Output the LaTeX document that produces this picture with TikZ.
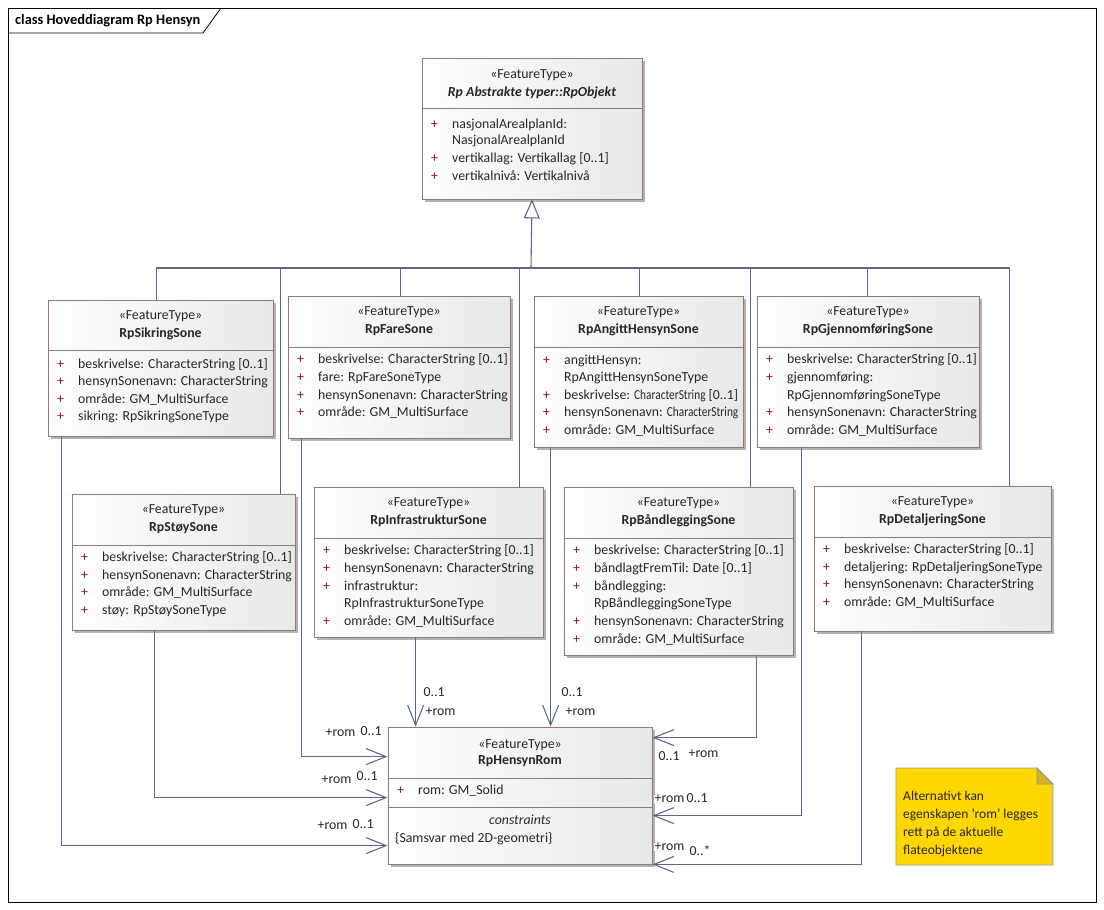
\documentclass[tikz,border=0pt]{standalone}
\usepackage{fontspec}
\usepackage{graphicx}
\setmainfont{Carlito}
\usetikzlibrary{arrows.meta,fit,shadows}
\definecolor{conncol}{RGB}{92,104,136}
\definecolor{bordcol}{RGB}{150,118,118}
\definecolor{pluscol}{RGB}{128,16,64}
\definecolor{notecol}{RGB}{255,215,0}
\definecolor{foldcol}{RGB}{214,178,20}
\definecolor{notebord}{RGB}{140,150,170}
\newcommand\fsz{\fontsize{13.8}{16}\selectfont}
\newcommand\narrowCS{\scalebox{0.82}[1]{CharacterString}}
\tikzset{
  cls/.style={draw=bordcol, line width=0.8pt, left color=white, right color=black!9, inner sep=0pt,
    drop shadow={shadow xshift=3pt, shadow yshift=-3pt, fill=black!30, opacity=1}},
  sepline/.style={draw=bordcol, line width=0.8pt},
  txt/.style={font=\fsz, inner sep=0pt, text=black!85, yshift=-1.5pt},
  attr/.style={txt, anchor=mid west},
  plusmark/.style={txt, anchor=mid west, text=pluscol},
  stereo/.style={txt, anchor=mid},
  cname/.style={txt, anchor=mid, font=\fsz\bfseries},
  conn/.style={draw=conncol, line width=1.1pt},
  assoc/.style={conn, -{Straight Barb[length=20pt,width=16pt]}},
  gen/.style={conn, -{Triangle[open,length=19pt,width=16pt]}},
  role/.style={txt, anchor=mid west, fill=white, inner sep=0.5pt},
}
% #1 name prefix, #2 box left x, #3 y, #4 text
\newcommand\pattr[4]{%
  \node[plusmark] (#1p) at (#2+9,#3) {+};
  \node[attr] (#1) at (#2+30,#3) {#4};}
\newcommand\cattr[4]{%
  \node[attr] (#1) at (#2+30,#3) {#4};}
\begin{document}
\begin{tikzpicture}[x=1pt,y=-1pt]
\useasboundingbox (0,0) rectangle (1104,910);
% frame
\draw[line width=0.8pt] (8,8) rectangle (1096,902);
\draw[line width=0.8pt] (8,33) -- (203,33) -- (221,8);
\node[anchor=mid west, inner sep=0pt, yshift=-2pt, font=\fontsize{14.4}{16}\selectfont\bfseries] (title) at (15,20) {class Hoveddiagram Rp Hensyn};

% ---------- RpObjekt
\node[cls, fit={(422,58) (642,199)}] (obj) {};
\draw[sepline] (obj.west |- 0,108) -- (obj.east |- 0,108);
\node[stereo] (objS) at (532,75) {«FeatureType»};
\node[cname, font=\fsz\bfseries\itshape] (objN) at (532,93) {Rp Abstrakte typer::RpObjekt};
\pattr{objA1}{422}{125}{nasjonalArealplanId:}
\cattr{objA1b}{422}{141}{NasjonalArealplanId}
\pattr{objA2}{422}{159}{vertikallag: Vertikallag [0..1]}
\pattr{objA3}{422}{177}{vertikalnivå: Vertikalnivå}

% ---------- RpSikringSone
\node[cls, fit={(48,300) (273,436)}] (sik) {};
\draw[sepline] (sik.west |- 0,350) -- (sik.east |- 0,350);
\node[stereo] (sikS) at (160.5,316) {«FeatureType»};
\node[cname] (sikN) at (160.5,334) {RpSikringSone};
\pattr{sikA1}{48}{365}{beskrivelse: CharacterString [0..1]}
\pattr{sikA2}{48}{382}{hensynSonenavn: CharacterString}
\pattr{sikA3}{48}{400}{område: GM\_MultiSurface}
\pattr{sikA4}{48}{417}{sikring: RpSikringSoneType}

% ---------- RpFareSone
\node[cls, fit={(288,296) (510,438)}] (fare) {};
\draw[sepline] (fare.west |- 0,347) -- (fare.east |- 0,347);
\node[stereo] (fareS) at (399,312) {«FeatureType»};
\node[cname] (fareN) at (399,330) {RpFareSone};
\pattr{fareA1}{288}{360}{beskrivelse: CharacterString [0..1]}
\pattr{fareA2}{288}{378}{fare: RpFareSoneType}
\pattr{fareA3}{288}{396}{hensynSonenavn: CharacterString}
\pattr{fareA4}{288}{413}{område: GM\_MultiSurface}

% ---------- RpAngittHensynSone
\node[cls, fit={(534,296) (743,447)}] (ang) {};
\draw[sepline] (ang.west |- 0,347) -- (ang.east |- 0,347);
\node[stereo] (angS) at (638.5,312) {«FeatureType»};
\node[cname] (angN) at (638.5,330) {RpAngittHensynSone};
\pattr{angA1}{534}{361}{angittHensyn:}
\cattr{angA1b}{534}{378}{RpAngittHensynSoneType}
\pattr{angA2}{534}{396}{beskrivelse: \narrowCS{} [0..1]}
\pattr{angA3}{534}{413}{hensynSonenavn: \narrowCS}
\pattr{angA4}{534}{431}{område: GM\_MultiSurface}

% ---------- RpGjennomføringSone
\node[cls, fit={(757,296) (979,447)}] (gjen) {};
\draw[sepline] (gjen.west |- 0,347) -- (gjen.east |- 0,347);
\node[stereo] (gjenS) at (868,312) {«FeatureType»};
\node[cname] (gjenN) at (868,330) {RpGjennomføringSone};
\pattr{gjenA1}{757}{360}{beskrivelse: CharacterString [0..1]}
\pattr{gjenA2}{757}{378}{gjennomføring:}
\cattr{gjenA2b}{757}{396}{RpGjennomføringSoneType}
\pattr{gjenA3}{757}{413}{hensynSonenavn: CharacterString}
\pattr{gjenA4}{757}{431}{område: GM\_MultiSurface}

% ---------- RpStøySone
\node[cls, fit={(72,494) (295,630)}] (stoy) {};
\draw[sepline] (stoy.west |- 0,545) -- (stoy.east |- 0,545);
\node[stereo] (stoyS) at (183.5,510) {«FeatureType»};
\node[cname] (stoyN) at (183.5,528) {RpStøySone};
\pattr{stoyA1}{72}{558}{beskrivelse: CharacterString [0..1]}
\pattr{stoyA2}{72}{576}{hensynSonenavn: CharacterString}
\pattr{stoyA3}{72}{593}{område: GM\_MultiSurface}
\pattr{stoyA4}{72}{611}{støy: RpStøySoneType}

% ---------- RpInfrastrukturSone
\node[cls, fit={(314,487) (543,637)}] (infra) {};
\draw[sepline] (infra.west |- 0,538) -- (infra.east |- 0,538);
\node[stereo] (infraS) at (428.5,503) {«FeatureType»};
\node[cname] (infraN) at (428.5,521) {RpInfrastrukturSone};
\pattr{infraA1}{314}{551}{beskrivelse: CharacterString [0..1]}
\pattr{infraA2}{314}{569}{hensynSonenavn: CharacterString}
\pattr{infraA3}{314}{587}{infrastruktur:}
\cattr{infraA3b}{314}{604}{RpInfrastrukturSoneType}
\pattr{infraA4}{314}{622}{område: GM\_MultiSurface}

% ---------- RpBåndleggingSone
\node[cls, fit={(564,487) (793,655)}] (band) {};
\draw[sepline] (band.west |- 0,538) -- (band.east |- 0,538);
\node[stereo] (bandS) at (678.5,503) {«FeatureType»};
\node[cname] (bandN) at (678.5,521) {RpBåndleggingSone};
\pattr{bandA1}{564}{551}{beskrivelse: CharacterString [0..1]}
\pattr{bandA2}{564}{569}{båndlagtFremTil: Date [0..1]}
\pattr{bandA3}{564}{587}{båndlegging:}
\cattr{bandA3b}{564}{604}{RpBåndleggingSoneType}
\pattr{bandA4}{564}{622}{hensynSonenavn: CharacterString}
\pattr{bandA5}{564}{640}{område: GM\_MultiSurface}

% ---------- RpDetaljeringSone
\node[cls, fit={(814,486) (1051,631)}] (det) {};
\draw[sepline] (det.west |- 0,537) -- (det.east |- 0,537);
\node[stereo] (detS) at (932.5,502) {«FeatureType»};
\node[cname] (detN) at (932.5,520) {RpDetaljeringSone};
\pattr{detA1}{814}{550}{beskrivelse: CharacterString [0..1]}
\pattr{detA2}{814}{568}{detaljering: RpDetaljeringSoneType}
\pattr{detA3}{814}{585}{hensynSonenavn: CharacterString}
\pattr{detA4}{814}{603}{område: GM\_MultiSurface}

% ---------- RpHensynRom
\node[cls, fit={(388,727) (652,864)}] (rom) {};
\draw[sepline] (rom.west |- 0,778) -- (rom.east |- 0,778);
\draw[sepline] (rom.west |- 0,807) -- (rom.east |- 0,807);
\node[stereo] (romS) at (520,745) {«FeatureType»};
\node[cname] (romN) at (520,761) {RpHensynRom};
\pattr{romA1}{388}{791}{rom: GM\_Solid}
\node[stereo, font=\fsz\itshape] (romC) at (520,821) {constraints};
\node[attr] (romC1) at (395,839) {\{Samsvar med 2D-geometri\}};

% ---------- generalisation
\coordinate (bus) at (531,268);
\draw[conn] ([xshift=109pt]sik.north west) |- (bus);
\draw[conn] ([xshift=209pt]stoy.north west) |- (bus);
\draw[conn] ([xshift=113pt]fare.north west) |- (bus);
\draw[conn] ([xshift=206pt]infra.north west) |- (bus);
\draw[conn] ([xshift=106pt]ang.north west) |- (bus);
\draw[conn] ([xshift=187pt]band.north west) |- (bus);
\draw[conn] ([xshift=111pt]gjen.north west) |- (bus);
\draw[conn] ([xshift=196pt]det.north west) |- (bus);
\draw[gen] (bus) -- (obj.south);

% ---------- associations
\draw[assoc] ([xshift=14pt]fare.south west) |- ([yshift=-30pt]rom.north west);
\draw[assoc] ([xshift=83pt]stoy.south west) |- ([yshift=-71pt]rom.north west);
\draw[assoc] ([xshift=14pt]sik.south west) |- ([yshift=-119pt]rom.north west);
\draw[assoc] ([xshift=102pt]infra.south west) -- ([xshift=28pt]rom.north west);
\draw[assoc] ([xshift=17pt]ang.south west) -- ([xshift=163pt]rom.north west);
\draw[assoc] ([xshift=193pt]band.south west) |- ([yshift=-11pt]rom.north east);
\draw[assoc] ([xshift=45pt]gjen.south west) |- ([yshift=-89pt]rom.north east);
\draw[assoc] ([xshift=48pt]det.south west) |- (rom.south east);

% ---------- role labels
\node[role] (r1a) at (325,733) {+rom};
\node[role] (r1b) at (360,732) {0..1};
\node[role] (r2a) at (321,780) {+rom};
\node[role] (r2b) at (356,777) {0..1};
\node[role] (r3a) at (317,826) {+rom};
\node[role] (r3b) at (352,825) {0..1};
\node[role] (r4b) at (423,693) {0..1};
\node[role] (r4a) at (425,712) {+rom};
\node[role] (r5b) at (561,693) {0..1};
\node[role] (r5a) at (565,712) {+rom};
\node[role] (r6b) at (658,757) {0..1};
\node[role] (r6a) at (688,754) {+rom};
\node[role] (r7a) at (654,799) {+rom};
\node[role] (r7b) at (686,799) {0..1};
\node[role] (r8a) at (654,847) {+rom};
\node[role] (r8b) at (689,852) {0..*};

% ---------- note
\path[fill=notecol, draw=notebord, line width=0.8pt] (896,768) -- (1037,768) -- (1053,784) -- (1053,865) -- (896,865) -- cycle;
\path[fill=foldcol, draw=notebord, line width=0.8pt] (1037,768) -- (1037,784) -- (1053,784) -- cycle;
\node[anchor=north west, txt, align=left, font=\fontsize{13.5}{18}\selectfont] (note) at (903,789) {Alternativt kan\\egenskapen 'rom' legges\\rett på de aktuelle\\flateobjektene};
\end{tikzpicture}
\end{document}
